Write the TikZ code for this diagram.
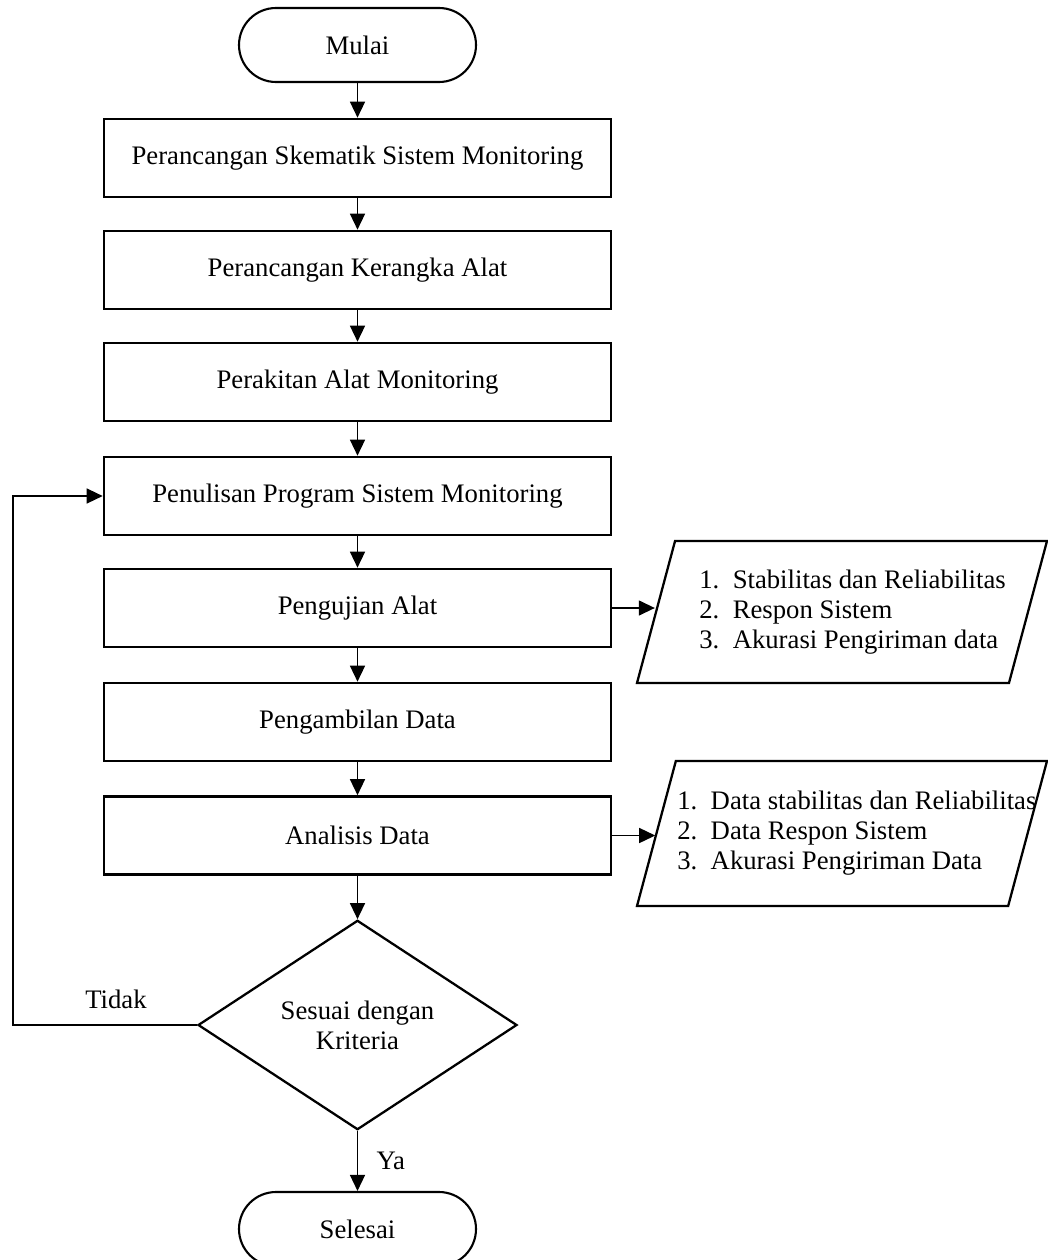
\documentclass[tikz,border=0pt]{standalone}
\usepackage{fontspec}
\setmainfont{Liberation Serif}
\usepackage{tikz}
\usetikzlibrary{shapes.geometric, arrows.meta}

\tikzset{
    terminal/.style={draw=black, line width=1.2pt, rounded corners=0.74cm, minimum width=4.74cm, minimum height=1.48cm},
    proses/.style={draw=black, line width=1.5pt, minimum width=10.14cm, minimum height=1.56cm},
    keputusan/.style={shape=diamond, draw=black, line width=1.3pt, minimum width=6.38cm, minimum height=4.18cm, inner sep=1pt, align=center},
    luaran/.style={shape=trapezium, trapezium left angle=75, trapezium right angle=105, trapezium stretches body, draw=black, line width=1.3pt, minimum width=8.2cm, inner ysep=0pt, text depth=0pt, text height=2.84cm},
    daftar/.style={anchor=west, inner sep=0pt, align=left},
    panah/.style={line width=0.8pt, -{Triangle[length=0.32cm, width=0.3cm]}}
}

\begin{document}
\begin{tikzpicture}[font=\fontsize{15.2}{17.1}\selectfont]
            \useasboundingbox (0, 0) rectangle (20.96, -25.2);

            \node[terminal] (mulai) at (7.15, -0.9) {Mulai};
            \node[proses] (skematik) at (7.15, -3.16) {Perancangan Skematik Sistem Monitoring};
            \node[proses] (kerangka) at (7.15, -5.40) {Perancangan Kerangka Alat};
            \node[proses] (perakitan) at (7.15, -7.64) {Perakitan Alat Monitoring};
            \node[proses] (program) at (7.15, -9.92) {Penulisan Program Sistem Monitoring};
            \node[proses] (uji) at (7.15, -12.16) {Pengujian Alat};
            \node[proses] (ambil) at (7.15, -14.44) {Pengambilan Data};
            \node[proses] (analisis) at (7.15, -16.71) {Analisis Data};
            \node[keputusan] (kriteria) at (7.15, -20.5) {Sesuai dengan\\Kriteria};
            \node[terminal] (selesai) at (7.15, -24.58) {Selesai};

            \node[luaran] (hasiluji) at (16.84, -12.24) {};
            \node[daftar] (listuji) at (13.98, -12.24) {1.~~Stabilitas dan Reliabilitas\\2.~~Respon Sistem\\3.~~Akurasi Pengiriman data};
            \node[luaran, text height=2.9cm] (hasildata) at (16.84, -16.67) {};
            \node[daftar] (listdata) at (13.54, -16.67) {1.~~Data stabilitas dan Reliabilitas\\2.~~Data Respon Sistem\\3.~~Akurasi Pengiriman Data};

            \coordinate (balik) at (0.26, -20.5);

            \path [panah] (mulai) edge (skematik);
            \path [panah] (skematik) edge (kerangka);
            \path [panah] (kerangka) edge (perakitan);
            \path [panah] (perakitan) edge (program);
            \path [panah] (program) edge (uji);
            \path [panah] (uji) edge (ambil);
            \path [panah] (ambil) edge (analisis);
            \path [panah] (analisis) edge (kriteria);
            \path [panah] (kriteria) edge node[right=0.25cm] {Ya} (selesai);

            \draw [panah] (uji.east) -- (uji.east -| hasiluji.west);
            \draw [panah] (analisis.east) -- (analisis.east -| hasildata.west);

            \draw [panah] (kriteria.west) -- node[above=0.2cm, pos=0.44] {Tidak} (balik) |- (program.west);
        \end{tikzpicture}
\end{document}
